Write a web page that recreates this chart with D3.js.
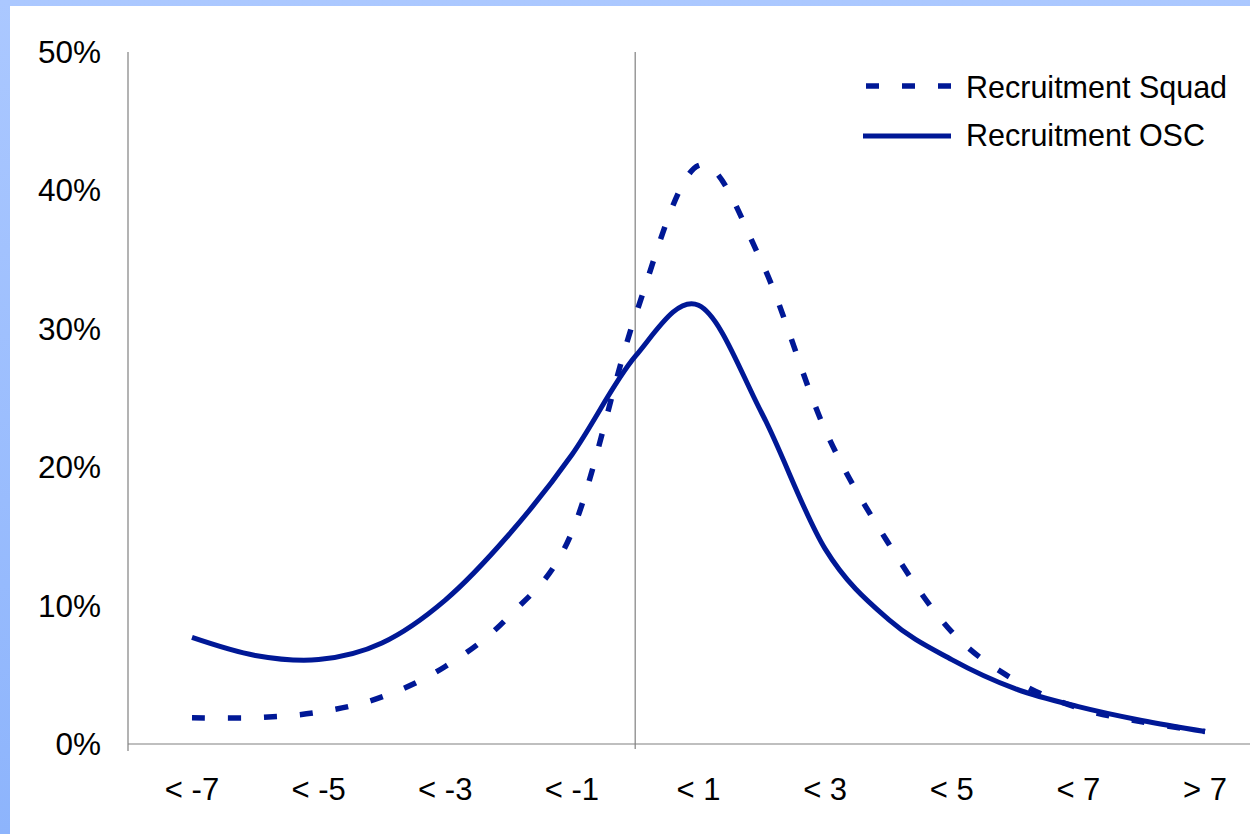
<!DOCTYPE html>
<html>
<head>
<meta charset="utf-8">
<script src="https://cdn.jsdelivr.net/npm/d3@7"></script>
<style>
  html, body { margin: 0; padding: 0; background: #ffffff; }
  svg { display: block; }
  text { font-family: "Liberation Sans", Arial, sans-serif; fill: #000; }
</style>
</head>
<body>
<svg id="chart" width="1250" height="834"></svg>
<script>
// Categories along the bottom axis (every other one is labelled)
const categories = ["< -7", "< -6", "< -5", "< -4", "< -3", "< -2", "< -1", "< 0",
                    "< 1", "< 2", "< 3", "< 4", "< 5", "< 6", "< 7", "= 7", "> 7"];
const shownLabels = ["< -7", "< -5", "< -3", "< -1", "< 1", "< 3", "< 5", "< 7", "> 7"];

// Share of recruits in each category (percent)
const squadValues = [1.9, 1.9, 2.3, 3.4, 5.6, 9.2, 15.3, 30.9, 41.8, 34.8, 22.7, 14.5, 8.1, 4.6, 2.6, 1.6, 0.9];
const oscValues   = [7.7, 6.4, 6.1, 7.3, 10.4, 15.1, 20.9, 28.0, 31.7, 23.9, 14.1, 9.0, 6.1, 4.0, 2.7, 1.7, 0.9];

const yTicks = [0, 10, 20, 30, 40, 50];
const seriesNames = ["Recruitment Squad", "Recruitment OSC"];
const markerCategory = "< 0";

const W = 1250, H = 834;
const svg = d3.select("#chart");
const lineColor = "#001896";
const axisColor = "#808080";

// Page frame: light blue band at the top and left, white chart area
const defs = svg.append("defs");
const grad = defs.append("linearGradient").attr("id", "frameGrad")
  .attr("x1", 0).attr("y1", 0).attr("x2", 0).attr("y2", 1);
grad.append("stop").attr("offset", "0%").attr("stop-color", "#abc8ff");
grad.append("stop").attr("offset", "100%").attr("stop-color", "#8db4fc");
svg.append("rect").attr("width", W).attr("height", H).attr("fill", "url(#frameGrad)");
svg.append("rect").attr("x", 10).attr("y", 6).attr("width", W - 10).attr("height", H - 6).attr("fill", "#ffffff");

// Scales
const x = d3.scalePoint().domain(categories).range([192, 1205]);
const y = d3.scaleLinear().domain([0, 50]).range([744, 52]);
const plotLeft = 128, plotRight = W;

// Y axis line and labels
svg.append("line")
  .attr("x1", plotLeft).attr("x2", plotLeft)
  .attr("y1", y(50)).attr("y2", y(0) + 7)
  .attr("stroke", axisColor).attr("stroke-width", 1.2);

svg.append("g").selectAll("text").data(yTicks).join("text")
  .attr("x", 101)
  .attr("y", d => y(d) + 11)
  .attr("text-anchor", "end")
  .attr("font-size", 31.5)
  .text(d => d + "%");

// Vertical reference line at the "< 0" category
svg.append("line")
  .attr("x1", x(markerCategory)).attr("x2", x(markerCategory))
  .attr("y1", y(50)).attr("y2", y(0) + 5)
  .attr("stroke", axisColor).attr("stroke-width", 1.2);

// X axis line
svg.append("line")
  .attr("x1", plotLeft).attr("x2", plotRight)
  .attr("y1", y(0)).attr("y2", y(0))
  .attr("stroke", axisColor).attr("stroke-width", 1.2);

// Category labels
svg.append("g").selectAll("text").data(shownLabels).join("text")
  .attr("x", d => x(d))
  .attr("y", 800)
  .attr("text-anchor", "middle")
  .attr("font-size", 31)
  .text(d => d);

// Smoothed series lines
const line = d3.line()
  .x((d, i) => x(categories[i]))
  .y(d => y(d))
  .curve(d3.curveCatmullRom.alpha(0));

svg.append("path")
  .datum(oscValues)
  .attr("d", line)
  .attr("fill", "none")
  .attr("stroke", lineColor)
  .attr("stroke-width", 5)
  .attr("stroke-linejoin", "round");

svg.append("path")
  .datum(squadValues)
  .attr("d", line)
  .attr("fill", "none")
  .attr("stroke", lineColor)
  .attr("stroke-width", 5.5)
  .attr("stroke-dasharray", "13,23");

// Legend
const legend = svg.append("g");
legend.append("line")
  .attr("x1", 866).attr("x2", 951).attr("y1", 86).attr("y2", 86)
  .attr("stroke", lineColor).attr("stroke-width", 5.5)
  .attr("stroke-dasharray", "13,23");
legend.append("line")
  .attr("x1", 863).attr("x2", 951).attr("y1", 136).attr("y2", 136)
  .attr("stroke", lineColor).attr("stroke-width", 5);
legend.selectAll("text").data(seriesNames).join("text")
  .attr("x", 966)
  .attr("y", (d, i) => 98 + i * 48)
  .attr("font-size", 30.5)
  .text(d => d);
</script>
</body>
</html>
